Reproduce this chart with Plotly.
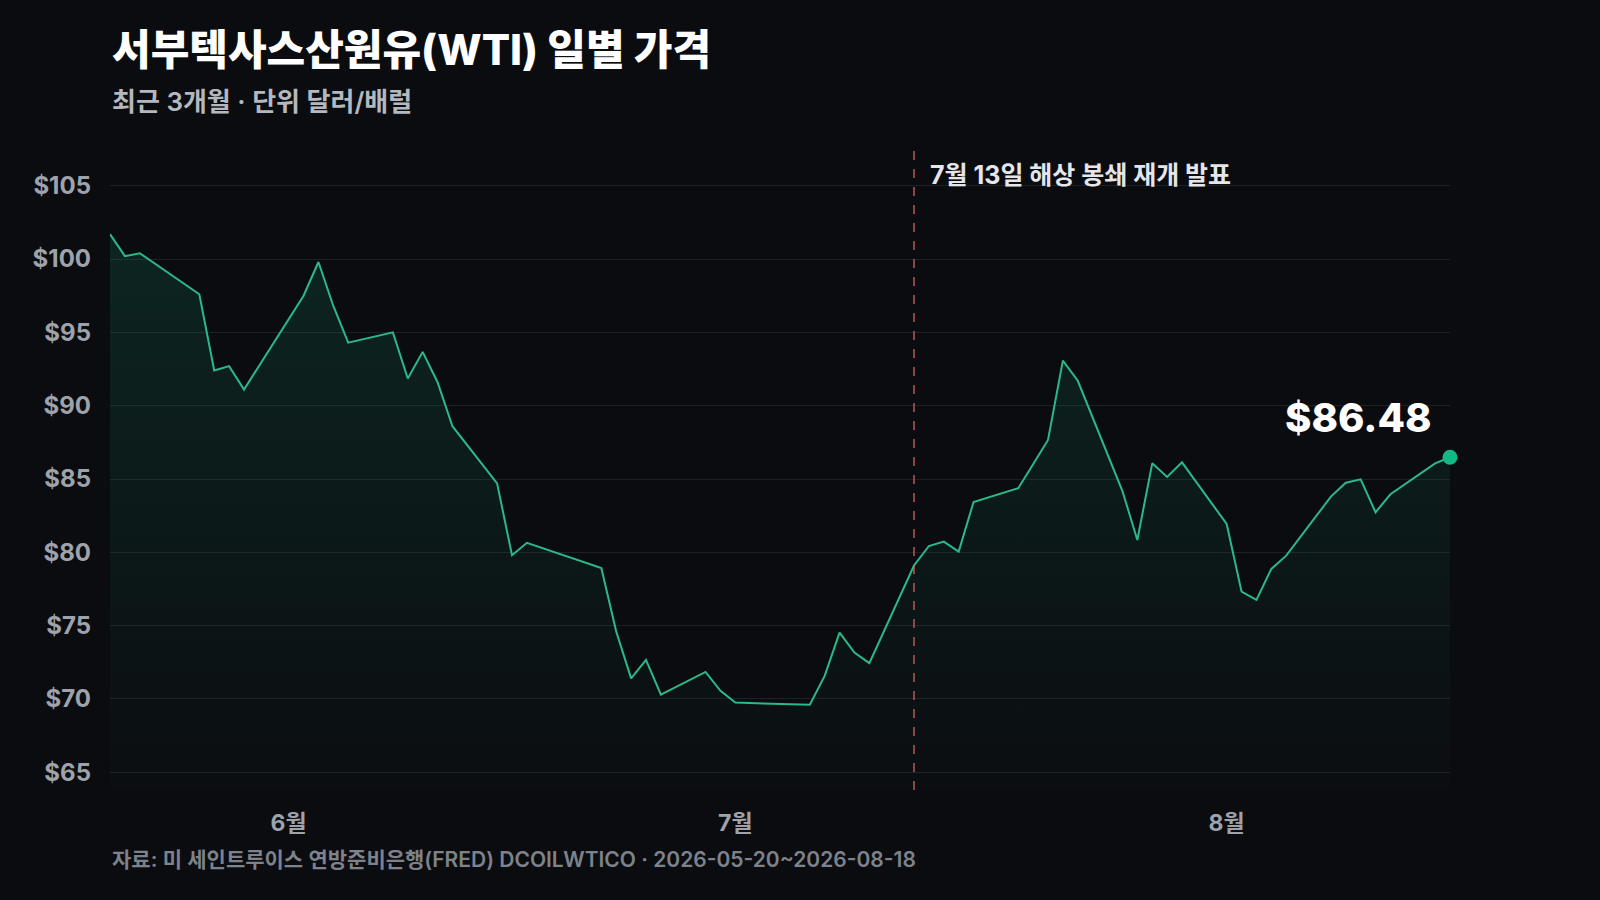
import plotly.graph_objects as go

# WTI daily close
dates = [
    '2026-05-20', '2026-05-21', '2026-05-22', '2026-05-26', '2026-05-27', '2026-05-28', '2026-05-29',
    '2026-06-01', '2026-06-02', '2026-06-03', '2026-06-04', '2026-06-05',
    '2026-06-08', '2026-06-09', '2026-06-10', '2026-06-11', '2026-06-12',
    '2026-06-15', '2026-06-16', '2026-06-17', '2026-06-18',
    '2026-06-22', '2026-06-23', '2026-06-24', '2026-06-25', '2026-06-26',
    '2026-06-29', '2026-06-30', '2026-07-01', '2026-07-02',
    '2026-07-06', '2026-07-07', '2026-07-08', '2026-07-09', '2026-07-10',
    '2026-07-13', '2026-07-14', '2026-07-15', '2026-07-16', '2026-07-17',
    '2026-07-20', '2026-07-21', '2026-07-22', '2026-07-23', '2026-07-24',
    '2026-07-27', '2026-07-28', '2026-07-29', '2026-07-30', '2026-07-31',
    '2026-08-03', '2026-08-04', '2026-08-05', '2026-08-06', '2026-08-07',
    '2026-08-10', '2026-08-11', '2026-08-12', '2026-08-13', '2026-08-14',
    '2026-08-17', '2026-08-18',
]
prices = [
    101.7, 100.2, 100.4, 97.6, 92.4, 92.7, 91.1,
    95.9, 97.5, 99.8, 96.8, 94.3,
    95.0, 91.85, 93.67, 91.6, 88.6,
    84.7, 79.8, 80.65, 80.3,
    78.93, 74.6, 71.4, 72.66, 70.3,
    71.84, 70.55, 69.75, 69.72,
    69.6, 71.57, 74.52, 73.16, 72.44,
    79.1, 80.43, 80.73, 80.05, 83.43,
    84.37, 86.0, 87.66, 93.07, 91.7,
    84.18, 80.84, 86.07, 85.14, 86.14,
    81.93, 77.32, 76.75, 78.87, 79.77,
    83.8, 84.75, 84.98, 82.73, 83.96,
    86.07, 86.48,
]

y_ticks = [65, 70, 75, 80, 85, 90, 95, 100, 105]
y_ticktext = ['$' + str(v) for v in y_ticks]
month_ticks = ['2026-06-01', '2026-07-01', '2026-08-03']
month_labels = ['6월', '7월', '8월']

event_date = '2026-07-13'
event_text = '7월 13일 해상 봉쇄 재개 발표'

title = '서부텍사스산원유(WTI) 일별 가격'
subtitle = '최근 3개월 · 단위 달러/배럴'
source = '자료: 미 세인트루이스 연방준비은행(FRED) DCOILWTICO · 2026-05-20~2026-08-18'

FONT = "Inter, 'Noto Sans CJK KR', sans-serif"
BG = '#0b0c10'
LINE = '#2cb98a'
DOT = '#12b886'

y_min, y_max = 63.79, 107.37

fig = go.Figure()

fig.add_trace(go.Scatter(
    x=dates, y=prices, mode='lines',
    line=dict(color=LINE, width=2),
    fill='tozeroy',
    fillgradient=dict(type='vertical', start=y_min, stop=max(prices),
                      colorscale=[[0, 'rgba(20,160,120,0.01)'], [1, 'rgba(20,160,120,0.17)']]),
    hoverinfo='skip', showlegend=False,
))

fig.add_trace(go.Scatter(
    x=[dates[-1]], y=[prices[-1]], mode='markers',
    marker=dict(color=DOT, size=15),
    cliponaxis=False,
    hoverinfo='skip', showlegend=False,
))

fig.add_shape(type='line', xref='x', yref='paper',
              x0=event_date, x1=event_date, y0=0, y1=1,
              line=dict(color='rgba(214,102,96,0.85)', width=1.5, dash='dash'))

fig.add_annotation(x=event_date, y=0.9624, xref='x', yref='paper',
                   text=event_text, showarrow=False, xanchor='left', yanchor='middle', xshift=14,
                   font=dict(family=FONT, size=25, color='#e4e6ea', weight=700))

fig.add_annotation(x=dates[-1], y=prices[-1], xref='x', yref='y',
                   text='$%.2f' % prices[-1], showarrow=False,
                   xanchor='right', yanchor='bottom', xshift=-16, yshift=13,
                   font=dict(family=FONT, size=40, color='#ffffff', weight=800))

# title block and footnote
fig.add_annotation(x=0, y=1.1596, xref='paper', yref='paper', text=title, showarrow=False,
                   xanchor='left', yanchor='middle',
                   font=dict(family=FONT, size=42, color='#ffffff', weight=800))
fig.add_annotation(x=0, y=1.0767, xref='paper', yref='paper', text=subtitle, showarrow=False,
                   xanchor='left', yanchor='middle',
                   font=dict(family=FONT, size=26, color='#b4b8bf', weight=600))
fig.add_annotation(x=0, y=-0.1095, xref='paper', yref='paper', text=source, showarrow=False,
                   xanchor='left', yanchor='middle',
                   font=dict(family=FONT, size=21, color='#7d828b', weight=600))

fig.update_layout(
    width=1600, height=900,
    margin=dict(l=110, r=150, t=151, b=110),
    paper_bgcolor=BG, plot_bgcolor=BG,
    font=dict(family=FONT),
    showlegend=False,
    xaxis=dict(
        type='date', range=[dates[0], dates[-1]],
        tickvals=month_ticks, ticktext=month_labels,
        showgrid=False, zeroline=False, showline=False, ticks='',
        ticklabelstandoff=17,
        tickfont=dict(family=FONT, size=23, color='#9ea3ab', weight=700),
    ),
    yaxis=dict(
        range=[y_min, y_max],
        tickvals=y_ticks, ticktext=y_ticktext,
        showgrid=True, gridcolor='#1d2025', gridwidth=1,
        zeroline=False, showline=False, ticks='',
        ticklabelstandoff=18,
        tickfont=dict(family=FONT, size=24, color='#9ea3ab', weight=700),
    ),
)

fig.write_html('out.html', config={'displayModeBar': False},
               post_script="document.body.style.margin='0';document.body.style.overflow='hidden';"
                           "document.body.style.background='" + BG + "';")
